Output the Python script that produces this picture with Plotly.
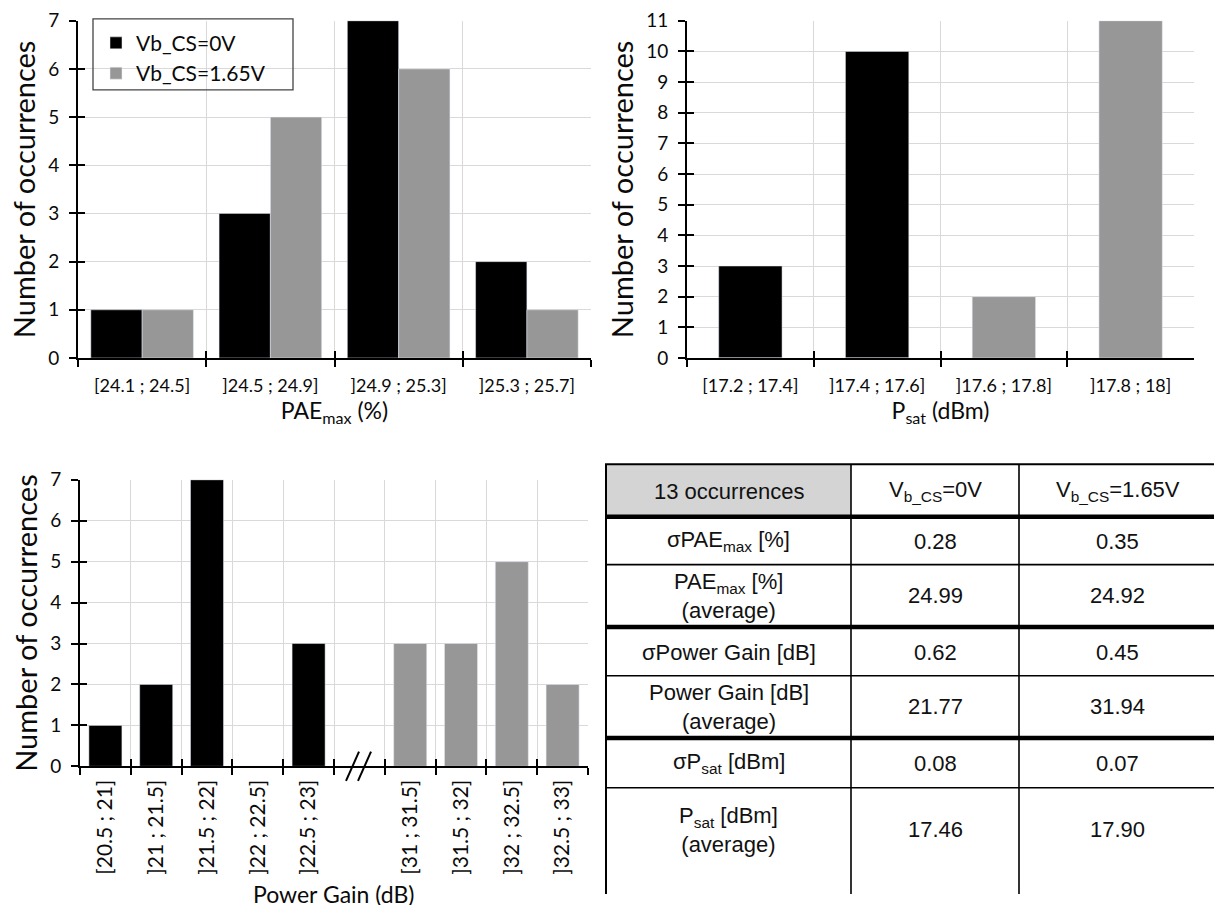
import plotly.graph_objects as go

W, H = 1214, 905

# ---- PAE_max histogram (both bias conditions) ----
pae_bins = ["[24.1 ; 24.5]", "]24.5 ; 24.9]", "]24.9 ; 25.3]", "]25.3 ; 25.7]"]
pae_vb0 = [1, 3, 7, 2]
pae_vb165 = [1, 5, 6, 1]

# ---- Psat histogram ----
psat_bins = ["[17.2 ; 17.4]", "]17.4 ; 17.6]", "]17.6 ; 17.8]", "]17.8 ; 18]"]
psat_vb0 = [3, 10, 0, 0]
psat_vb165 = [0, 0, 2, 11]

# ---- Power gain histogram, axis broken between 23 dB and 31 dB ----
gain_bins_vb0 = ["[20.5 ; 21]", "]21 ; 21.5]", "]21.5 ; 22]", "]22 ; 22.5]", "]22.5 ; 23]"]
gain_vb0 = [1, 2, 7, 0, 3]
gain_break = " "
gain_bins_vb165 = ["[31 ; 31.5]", "]31.5 ; 32]", "]32 ; 32.5]", "]32.5 ; 33]"]
gain_vb165 = [3, 3, 5, 2]
gain_bins = gain_bins_vb0 + [gain_break] + gain_bins_vb165

# ---- Summary table ----
table_header = ["13 occurrences", "V<sub>b_CS</sub>=0V", "V<sub>b_CS</sub>=1.65V"]
table_rows = [
    "σPAE<sub>max</sub> [%]",
    "PAE<sub>max</sub> [%]<br>(average)",
    "σPower Gain [dB]",
    "Power Gain [dB]<br>(average)",
    "σP<sub>sat</sub> [dBm]",
    "P<sub>sat</sub> [dBm]<br>(average)",
]
table_vb0 = ["0.28", "24.99", "0.62", "21.77", "0.08", "17.46"]
table_vb165 = ["0.35", "24.92", "0.45", "31.94", "0.07", "17.90"]

BLACK = "#000000"
GREY = "#979797"
GRID = "#d9d9d9"
TXT = "#0a0a0a"
CHART_FONT = "Lato"
TABLE_FONT = "Liberation Sans"


def px_x(v):
    return v / W


def px_y(v):
    return 1 - v / H


fig = go.Figure()

# top-left: PAE_max
fig.add_trace(go.Bar(x=pae_bins, y=pae_vb0, name="Vb_CS=0V", marker_color=BLACK,
                     xaxis="x", yaxis="y"))
fig.add_trace(go.Bar(x=pae_bins, y=pae_vb165, name="Vb_CS=1.65V", marker_color=GREY,
                     xaxis="x", yaxis="y"))

# top-right: Psat
fig.add_trace(go.Bar(x=psat_bins, y=psat_vb0, marker_color=BLACK, width=0.5,
                     showlegend=False, xaxis="x2", yaxis="y2", offsetgroup="a"))
fig.add_trace(go.Bar(x=psat_bins, y=psat_vb165, marker_color=GREY, width=0.5,
                     showlegend=False, xaxis="x2", yaxis="y2", offsetgroup="a"))

# bottom-left: power gain
fig.add_trace(go.Bar(x=gain_bins_vb0, y=gain_vb0, marker_color=BLACK, width=0.65,
                     showlegend=False, xaxis="x3", yaxis="y3", offsetgroup="b"))
fig.add_trace(go.Bar(x=gain_bins_vb165, y=gain_vb165, marker_color=GREY, width=0.65,
                     showlegend=False, xaxis="x3", yaxis="y3", offsetgroup="b"))

# empty traces carrying the inner half of the crossing tick marks
for xa, ya in (("x4", "y4"), ("x5", "y5"), ("x6", "y6")):
    fig.add_trace(go.Scatter(x=[None], y=[None], xaxis=xa, yaxis=ya,
                             showlegend=False, hoverinfo="skip"))

ytick_font = dict(family=CHART_FONT, size=19, color=TXT)
xtick_font = dict(family=CHART_FONT, size=18, color=TXT)
xtitle_font = dict(family=CHART_FONT, size=23, color=TXT)
ytitle_font = dict(family=CHART_FONT, size=29, color=TXT)


def cat_axis(domain, anchor, cats, title, standoff, font, angle=0, lab_off=8):
    return dict(
        domain=domain, anchor=anchor, type="category",
        categoryorder="array", categoryarray=cats,
        range=[-0.5, len(cats) - 0.5],
        tickson="boundaries", ticks="outside", ticklen=7, tickwidth=2, tickcolor=BLACK,
        showline=True, linecolor=BLACK, linewidth=2,
        showgrid=True, gridcolor=GRID, gridwidth=1,
        tickfont=font, tickangle=angle, ticklabelstandoff=lab_off,
        title=dict(text=title, font=xtitle_font, standoff=standoff),
        fixedrange=True,
    )


def val_axis(domain, anchor, top):
    return dict(
        domain=domain, anchor=anchor, range=[0, top], dtick=1, tick0=0,
        ticks="outside", ticklen=7, tickwidth=2, tickcolor=BLACK,
        showline=True, linecolor=BLACK, linewidth=2,
        showgrid=True, gridcolor=GRID, gridwidth=1, zeroline=False,
        tickfont=ytick_font, ticklabelstandoff=6,
        title=dict(text="Number of occurrences", font=ytitle_font, standoff=4),
        fixedrange=True,
    )


def inner_x(over, anchor, n):
    return dict(overlaying=over, anchor=anchor, range=[-0.5, n - 0.5],
                tickvals=[i - 0.5 for i in range(n + 1)], ticks="inside",
                ticklen=7, tickwidth=2, tickcolor=BLACK, showticklabels=False,
                showgrid=False, zeroline=False, showline=False, fixedrange=True)


def inner_y(over, anchor, top):
    return dict(overlaying=over, anchor=anchor, range=[0, top],
                tickvals=list(range(top + 1)), ticks="inside",
                ticklen=7, tickwidth=2, tickcolor=BLACK, showticklabels=False,
                showgrid=False, zeroline=False, showline=False, fixedrange=True)


dom_tl_x = [px_x(78), px_x(591)]
dom_tl_y = [px_y(355), px_y(9)]
dom_tr_x = [px_x(687), px_x(1194)]
dom_tr_y = [px_y(355), px_y(9)]
dom_bl_x = [px_x(80), px_x(588)]
dom_bl_y = [px_y(774), px_y(480)]

fig.update_layout(
    width=W, height=H, margin=dict(l=0, r=0, t=0, b=0),
    paper_bgcolor="white", plot_bgcolor="white",
    barmode="group", bargap=0.2, bargroupgap=0,
    font=dict(family=CHART_FONT, color=TXT),
    xaxis=cat_axis(dom_tl_x, "y", pae_bins, "PAE<sub>max</sub> (%)", 8, xtick_font, lab_off=10),
    yaxis=val_axis(dom_tl_y, "x", 7),
    xaxis2=cat_axis(dom_tr_x, "y2", psat_bins, "P<sub>sat</sub> (dBm)", 8, xtick_font, lab_off=10),
    yaxis2=val_axis(dom_tr_y, "x2", 11),
    xaxis3=cat_axis(dom_bl_x, "y3", gain_bins, "", 0,
                    dict(family=CHART_FONT, size=21, color=TXT), angle=-90, lab_off=3),
    yaxis3=val_axis(dom_bl_y, "x3", 7),
    xaxis4=inner_x("x", "y4", len(pae_bins)),
    yaxis4=inner_y("y", "x4", 7),
    xaxis5=inner_x("x2", "y5", len(psat_bins)),
    yaxis5=inner_y("y2", "x5", 11),
    xaxis6=inner_x("x3", "y6", len(gain_bins)),
    yaxis6=inner_y("y3", "x6", 7),
    legend=dict(x=px_x(96), y=px_y(11), xanchor="left", yanchor="top",
                bgcolor="rgba(0,0,0,0)", borderwidth=0,
                font=dict(family=CHART_FONT, size=21, color=TXT),
                itemwidth=30, tracegroupgap=0),
    showlegend=True,
)

shapes = []
annotations = []

# power-gain axis title, sitting on the bottom edge of the page
annotations.append(dict(text="Power Gain (dB)", xref="paper", yref="paper", showarrow=False,
                        x=(dom_bl_x[0] + dom_bl_x[1]) / 2, y=px_y(905),
                        xanchor="center", yanchor="middle", font=xtitle_font))

# legend frame
shapes.append(dict(type="rect", xref="paper", yref="paper",
                   x0=px_x(93), x1=px_x(293), y0=px_y(80), y1=px_y(7),
                   line=dict(color="#444444", width=1.3), fillcolor="rgba(0,0,0,0)"))

# axis break marks on the power-gain axis
for off in (0, 12):
    shapes.append(dict(type="line", xref="paper", yref="paper",
                       x0=px_x(346 + off), y0=px_y(789), x1=px_x(359 + off), y1=px_y(759),
                       line=dict(color=BLACK, width=2)))

# summary table geometry (last row runs to the bottom edge)
col_edges = [606, 851, 1019, 1216]
row_edges = [464, 518, 567, 631, 681, 745, 796, 905]
text_centres = [492, 543, 599, 657, 713, 771, 839]
thick_lines = {518, 631, 745}

shapes.append(dict(type="rect", xref="paper", yref="paper",
                   x0=px_x(col_edges[0]), x1=px_x(col_edges[1]),
                   y0=px_y(row_edges[1]), y1=px_y(row_edges[0]),
                   fillcolor="#d4d4d4", line=dict(width=0), layer="below"))

for yv in row_edges[:-1]:
    w = 4.5 if yv in thick_lines else (2 if yv == row_edges[0] else 1.6)
    shapes.append(dict(type="line", xref="paper", yref="paper",
                       x0=px_x(col_edges[0] - 1), x1=px_x(col_edges[-1]),
                       y0=px_y(yv), y1=px_y(yv), line=dict(color=BLACK, width=w)))
for j, xv in enumerate(col_edges[:-1]):
    shapes.append(dict(type="line", xref="paper", yref="paper",
                       x0=px_x(xv), x1=px_x(xv),
                       y0=px_y(row_edges[0]), y1=px_y(row_edges[-1]),
                       line=dict(color=BLACK, width=2 if j == 0 else 1.6)))

cell_font = dict(family=TABLE_FONT, size=22, color="#111111")


def cell(text, c, r):
    annotations.append(dict(
        text=text, xref="paper", yref="paper", showarrow=False,
        x=px_x((col_edges[c] + col_edges[c + 1]) / 2),
        y=px_y(text_centres[r]),
        xanchor="center", yanchor="middle", align="center", font=cell_font))


for c, t in enumerate(table_header):
    cell(t, c, 0)
for r, (lab, a, b) in enumerate(zip(table_rows, table_vb0, table_vb165)):
    cell(lab, 0, r + 1)
    cell(a, 1, r + 1)
    cell(b, 2, r + 1)

fig.update_layout(shapes=shapes, annotations=annotations)

fig.write_html("out.html")
